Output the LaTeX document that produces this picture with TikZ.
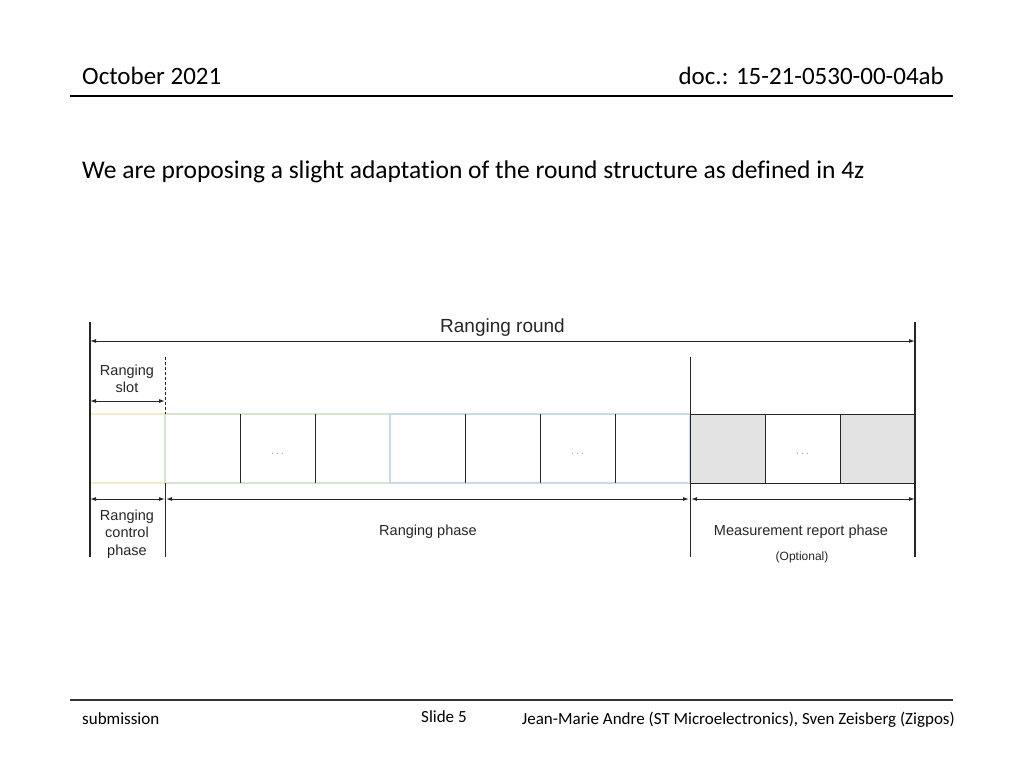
\documentclass[tikz,border=0pt]{standalone}
\usepackage{fontspec}
\setmainfont[Ligatures=NoCommon]{Carlito}
\newfontfamily\arial{Liberation Sans}
\usetikzlibrary{arrows.meta,positioning}
\definecolor{slotyellow}{HTML}{F3EDC4}
\definecolor{slotgreen}{HTML}{D5E3CF}
\definecolor{slotblue}{HTML}{C9D9EE}
\definecolor{reportgray}{HTML}{E3E3E3}

\begin{document}
\begin{tikzpicture}[x=1pt, y=-1pt,
slot/.style={rectangle, draw=none, minimum width=75pt, minimum height=69pt, inner sep=0pt, outer sep=0pt},
dim/.style={{Latex[length=6pt,width=4pt]}-{Latex[length=6pt,width=4pt]}, line width=1pt, black!85},
bar/.style={line width=2pt, black!85},
thin line/.style={line width=0.8pt, black!85},
lbl/.style={font=\arial\fontsize{14.5}{17.5}\selectfont, text=black!85, align=center},
dots/.style={font=\arial\fontsize{11}{13}\selectfont, text=black!50},
slide/.style={inner sep=0pt, font=\fontsize{25}{30}\selectfont},
body/.style={inner sep=0pt, font=\fontsize{25.5}{30}\selectfont},
foot/.style={inner sep=0pt, font=\fontsize{17}{20}\selectfont},
]
\useasboundingbox (0,0) rectangle (1024,768);

% header and footer
\node[slide, anchor=base west] (date) at (82,84) {October 2021};
\node[slide, anchor=base east] (doc) at (944,84) {doc.: 15-21-0530-00-04ab};
\coordinate (hl) at (70,96);
\coordinate (hr) at (953,96);
\draw[line width=1.3pt] (hl) -- (hr);
\node[body, anchor=base west] (intro) at (82,178) {We are proposing a slight adaptation of the round structure as defined in 4z};
\coordinate (fl) at (70,700);
\coordinate (fr) at (953,700);
\draw[line width=1.3pt, black!80] (fl) -- (fr);
\node[foot, anchor=base west] (sub) at (82,724) {submission};
\node[foot, anchor=base west] (nr) at (421,722) {Slide 5};
\node[foot, anchor=base east] (auth) at (955,724) {Jean-Marie Andre (ST Microelectronics), Sven Zeisberg (Zigpos)};

% slots
\node[slot] (s1) at (127.5,448.5) {};
\foreach \i [remember=\i as \j (initially 1)] in {2,...,11}
  \node[slot, right=0pt of s\j] (s\i) {};
\fill[reportgray] (s9.north west) rectangle (s9.south east);
\fill[reportgray] (s11.north west) rectangle (s11.south east);
\draw[slotyellow, line width=1.3pt] (s1.north west) rectangle (s1.south east);
\draw[slotgreen, line width=1.3pt] (s2.north west) rectangle (s4.south east);
\draw[slotblue, line width=1.3pt] (s5.north west) rectangle (s8.south east);
\draw[thin line] (s9.north west) rectangle (s11.south east);
\foreach \n in {2,3,5,6,7,9,10}
  \draw[thin line, line width=1pt] (s\n.north east) -- (s\n.south east);
\foreach \n in {3,7,10}
  \node[dots] at ([yshift=-6pt]s\n.center) {$\cdots$};

% bounds
\coordinate (Ltop) at (s1.west |- 0,322);
\coordinate (Lbot) at (s1.west |- 0,557);
\coordinate (Rtop) at (s11.east |- 0,322);
\coordinate (Rbot) at (s11.east |- 0,557);
\draw[bar] (Ltop) -- (Lbot);
\draw[bar] (Rtop) -- (Rbot);
\coordinate (dtop) at (s1.east |- 0,357);
\draw[thin line, dashed, dash pattern=on 3pt off 2pt] (dtop) -- (s1.north east);
\coordinate (cbot) at (s1.east |- 0,557);
\draw[thin line] (s1.south east) -- (cbot);
\coordinate (mtop) at (s9.west |- 0,357);
\coordinate (mbot) at (s9.west |- 0,557);
\draw[thin line] (mtop) -- (mbot);

% ranging round
\coordinate (rr1) at (Ltop |- 0,341);
\coordinate (rr2) at (Rtop |- 0,341);
\draw[dim] (rr1) -- (rr2) node[midway, above=1pt, lbl, font=\arial\fontsize{19}{22}\selectfont] (round) {Ranging round};

% ranging slot
\coordinate (rs1) at (Ltop |- 0,401);
\coordinate (rs2) at (dtop |- 0,401);
\draw[dim] (rs1) -- (rs2);
\node[lbl] (slotlbl) at (127,379) {Ranging\\slot};

% phases
\coordinate (p1) at (Ltop |- 0,499);
\coordinate (p2) at (dtop |- 0,499);
\coordinate (p3) at (mtop |- 0,499);
\coordinate (p4) at (Rtop |- 0,499);
\draw[dim] (p1) -- (p2);
\draw[dim] ([xshift=1pt]p2) -- ([xshift=-1pt]p3);
\draw[dim] ([xshift=1pt]p3) -- (p4);
\node[lbl] (ctrl) at (127,534) {Ranging\\control\\phase};
\node[lbl] (rphase) at (428,532) {Ranging phase};
\node[lbl] (mphase) at (801,532) {Measurement report phase};
\node[lbl, font=\arial\fontsize{12}{14}\selectfont] (opt) at (802,557) {(Optional)};
\end{tikzpicture}
\end{document}
